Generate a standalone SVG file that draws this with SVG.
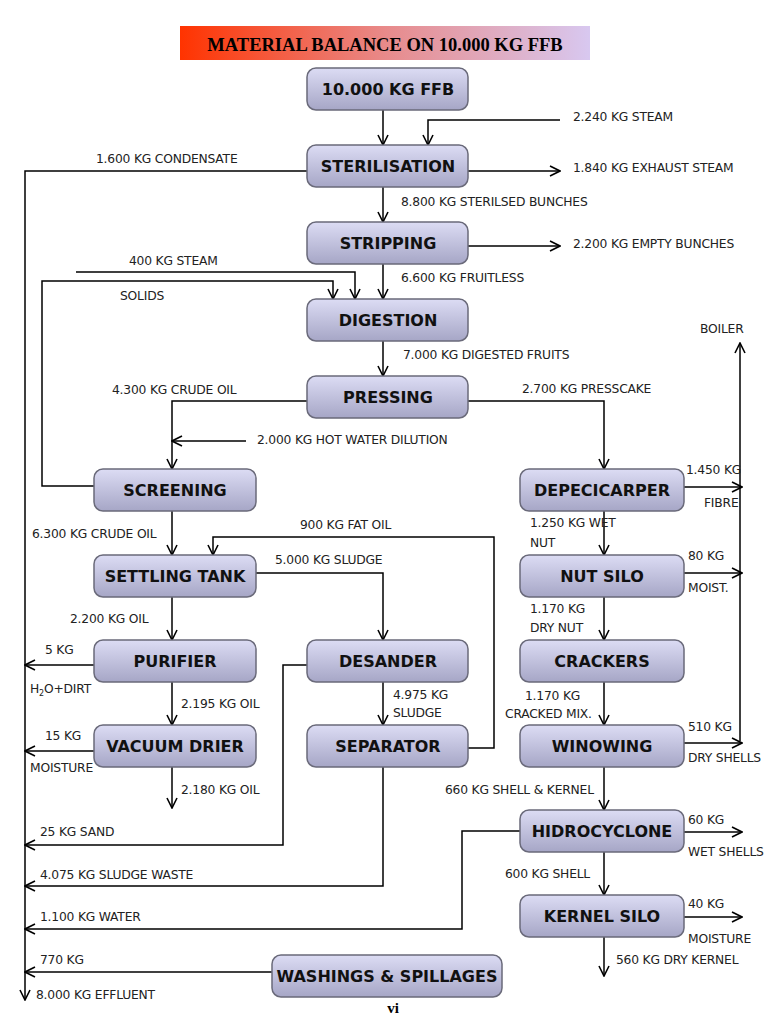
<svg xmlns="http://www.w3.org/2000/svg" width="768" height="1024" viewBox="0 0 768 1024">
<defs>
<linearGradient id="tg" x1="0" x2="1" y1="0" y2="0"><stop offset="0" stop-color="#ff3300"/><stop offset="0.5" stop-color="#e88a8a"/><stop offset="1" stop-color="#d8c8f0"/></linearGradient>
<linearGradient id="ng" x1="0" x2="0" y1="0" y2="1"><stop offset="0" stop-color="#dcdcf4"/><stop offset="1" stop-color="#a6a6c6"/></linearGradient>
<marker id="a" viewBox="0 0 12 12" refX="11" refY="6" markerWidth="12" markerHeight="12" markerUnits="userSpaceOnUse" orient="auto"><path d="M1,1 L11,6 L1,11" fill="none" stroke="#000" stroke-width="1.6"/></marker>
</defs>
<style>
.n rect{fill:url(#ng);stroke:#6a6a7a;stroke-width:1.5}
.n text{font-family:"DejaVu Sans",Verdana,sans-serif;font-weight:bold;font-size:16px;text-anchor:middle;fill:#111}
.c path{fill:none;stroke:#000;stroke-width:1.5}
.c path.ar{marker-end:url(#a)}
.l{font-family:"DejaVu Sans",Verdana,sans-serif;font-size:12.3px;fill:#222;letter-spacing:-0.2px}
</style>
<rect width="768" height="1024" fill="#fff"/>
<rect x="180" y="26" width="410" height="34" fill="url(#tg)"/>
<text x="385" y="51" font-family="Liberation Serif,serif" font-weight="bold" font-size="18.5" text-anchor="middle">MATERIAL BALANCE ON 10.000 KG FFB</text>
<g class="c">
<path class="ar" d="M383,110V145"/>
<path class="ar" d="M560,120H428V145"/>
<path class="ar" d="M307,171H25V1000"/>
<path class="ar" d="M468,171H560"/>
<path class="ar" d="M383,187V222"/>
<path class="ar" d="M468,246H560"/>
<path class="ar" d="M383,264V299"/>
<path class="ar" d="M76,272H355V299"/>
<path class="ar" d="M94,486H42V281H333V299"/>
<path class="ar" d="M383,341V376"/>
<path class="ar" d="M307,401H172V469"/>
<path class="ar" d="M246,441H172"/>
<path class="ar" d="M468,401H604V469"/>
<path class="ar" d="M172,511V555"/>
<path class="ar" d="M468,748H494V537H213V555"/>
<path class="ar" d="M256,573H383V640"/>
<path class="ar" d="M172,597V640"/>
<path class="ar" d="M94,665H25"/>
<path class="ar" d="M172,682V725"/>
<path class="ar" d="M94,751H25"/>
<path class="ar" d="M172,767V808"/>
<path class="ar" d="M383,682V725"/>
<path class="ar" d="M307,665H283V845H25"/>
<path class="ar" d="M383,767V886H25"/>
<path class="ar" d="M520,831H462V929H25"/>
<path class="ar" d="M272,972H25"/>
<path class="ar" d="M684,487H742"/>
<path class="ar" d="M740,741V343"/>
<path class="ar" d="M604,511V555"/>
<path class="ar" d="M684,573H742"/>
<path class="ar" d="M604,597V640"/>
<path class="ar" d="M604,682V725"/>
<path class="ar" d="M684,743H742"/>
<path class="ar" d="M604,767V810"/>
<path class="ar" d="M684,832H742"/>
<path class="ar" d="M604,852V895"/>
<path class="ar" d="M684,917H742"/>
<path class="ar" d="M604,937V976"/>
</g>
<g id="ffb" class="n"><rect x="307" y="68" width="161" height="42" rx="9"/><text x="388" y="95">10.000 KG FFB</text></g>
<g id="steril" class="n"><rect x="307" y="145" width="161" height="42" rx="9"/><text x="388" y="172">STERILISATION</text></g>
<g id="strip" class="n"><rect x="307" y="222" width="161" height="42" rx="9"/><text x="388" y="249">STRIPPING</text></g>
<g id="digest" class="n"><rect x="307" y="299" width="161" height="42" rx="9"/><text x="388" y="326">DIGESTION</text></g>
<g id="press" class="n"><rect x="307" y="376" width="161" height="42" rx="9"/><text x="388" y="403">PRESSING</text></g>
<g id="screen" class="n"><rect x="94" y="469" width="162" height="42" rx="9"/><text x="175" y="496">SCREENING</text></g>
<g id="settle" class="n"><rect x="94" y="555" width="162" height="42" rx="9"/><text x="175" y="582">SETTLING TANK</text></g>
<g id="purif" class="n"><rect x="94" y="640" width="162" height="42" rx="9"/><text x="175" y="667">PURIFIER</text></g>
<g id="vacuum" class="n"><rect x="94" y="725" width="162" height="42" rx="9"/><text x="175" y="752">VACUUM DRIER</text></g>
<g id="desand" class="n"><rect x="307" y="640" width="161" height="42" rx="9"/><text x="388" y="667">DESANDER</text></g>
<g id="separ" class="n"><rect x="307" y="725" width="161" height="42" rx="9"/><text x="388" y="752">SEPARATOR</text></g>
<g id="depec" class="n"><rect x="520" y="469" width="164" height="42" rx="9"/><text x="602" y="496">DEPECICARPER</text></g>
<g id="nutsilo" class="n"><rect x="520" y="555" width="164" height="42" rx="9"/><text x="602" y="582">NUT SILO</text></g>
<g id="crack" class="n"><rect x="520" y="640" width="164" height="42" rx="9"/><text x="602" y="667">CRACKERS</text></g>
<g id="winow" class="n"><rect x="520" y="725" width="164" height="42" rx="9"/><text x="602" y="752">WINOWING</text></g>
<g id="hidro" class="n"><rect x="520" y="810" width="164" height="42" rx="9"/><text x="602" y="837">HIDROCYCLONE</text></g>
<g id="kernel" class="n"><rect x="520" y="895" width="164" height="42" rx="9"/><text x="602" y="922">KERNEL SILO</text></g>
<g id="wash" class="n"><rect x="272" y="955" width="230" height="42" rx="9"/><text x="387" y="982">WASHINGS &amp; SPILLAGES</text></g>
<g class="l">
<text x="573" y="121">2.240 KG STEAM</text>
<text x="96" y="163">1.600 KG CONDENSATE</text>
<text x="573" y="172">1.840 KG EXHAUST STEAM</text>
<text x="401" y="206">8.800 KG STERILSED BUNCHES</text>
<text x="573" y="248">2.200 KG EMPTY BUNCHES</text>
<text x="401" y="282">6.600 KG FRUITLESS</text>
<text x="129" y="265">400 KG STEAM</text>
<text x="120" y="300">SOLIDS</text>
<text x="403" y="359">7.000 KG DIGESTED FRUITS</text>
<text x="112" y="394">4.300 KG CRUDE OIL</text>
<text x="257" y="444">2.000 KG HOT WATER DILUTION</text>
<text x="522" y="393">2.700 KG PRESSCAKE</text>
<text x="32" y="538">6.300 KG CRUDE OIL</text>
<text x="300" y="529">900 KG FAT OIL</text>
<text x="275" y="564">5.000 KG SLUDGE</text>
<text x="70" y="623">2.200 KG OIL</text>
<text x="45" y="654">5 KG</text>
<text x="30" y="693">H<tspan font-size="8" dy="3">2</tspan><tspan dy="-3">O+DIRT</tspan></text>
<text x="181" y="708">2.195 KG OIL</text>
<text x="45" y="740">15 KG</text>
<text x="30" y="772">MOISTURE</text>
<text x="181" y="794">2.180 KG OIL</text>
<text x="393" y="699">4.975 KG</text>
<text x="393" y="717">SLUDGE</text>
<text x="40" y="836">25 KG SAND</text>
<text x="40" y="879">4.075 KG SLUDGE WASTE</text>
<text x="40" y="921">1.100 KG WATER</text>
<text x="40" y="964">770 KG</text>
<text x="36" y="999">8.000 KG EFFLUENT</text>
<text x="686" y="474">1.450 KG</text>
<text x="704" y="507">FIBRE</text>
<text x="700" y="333">BOILER</text>
<text x="530" y="527">1.250 KG WET</text>
<text x="530" y="547">NUT</text>
<text x="688" y="560">80 KG</text>
<text x="688" y="592">MOIST.</text>
<text x="530" y="613">1.170 KG</text>
<text x="530" y="632">DRY NUT</text>
<text x="525" y="700">1.170 KG</text>
<text x="505" y="718">CRACKED MIX.</text>
<text x="688" y="731">510 KG</text>
<text x="688" y="762">DRY SHELLS</text>
<text x="445" y="794">660 KG SHELL &amp; KERNEL</text>
<text x="688" y="824">60 KG</text>
<text x="688" y="856">WET SHELLS</text>
<text x="505" y="878">600 KG SHELL</text>
<text x="688" y="908">40 KG</text>
<text x="688" y="943">MOISTURE</text>
<text x="616" y="964">560 KG DRY KERNEL</text>
</g>
<text x="393" y="1013" font-family="Liberation Serif,serif" font-weight="bold" font-size="15" text-anchor="middle">vi</text>
</svg>
